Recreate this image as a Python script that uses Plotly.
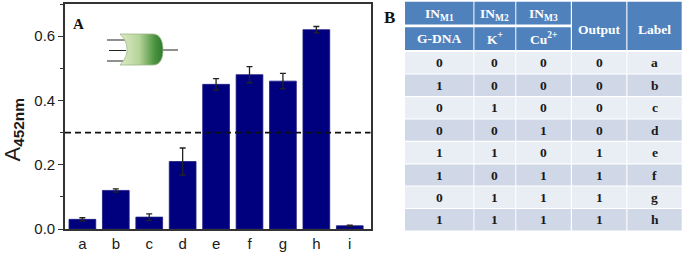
import base64
import plotly.graph_objects as go

W, H = 685, 254

categories = ["a", "b", "c", "d", "e", "f", "g", "h", "i"]
absorbance = [0.03, 0.12, 0.037, 0.21, 0.45, 0.48, 0.46, 0.62, 0.01]
errors = [0.005, 0.005, 0.01, 0.042, 0.018, 0.025, 0.024, 0.01, 0.002]
threshold = 0.3

header_top = ["IN<sub>M1</sub>", "IN<sub>M2</sub>", "IN<sub>M3</sub>"]
header_bottom = ["G-DNA", "K<sup>+</sup>", "Cu<sup>2+</sup>"]
header_merged = ["Output", "Label"]
in_m1 = ["0", "1", "0", "0", "1", "1", "0", "1"]
in_m2 = ["0", "0", "1", "0", "1", "0", "1", "1"]
in_m3 = ["0", "0", "0", "1", "0", "1", "1", "1"]
output = ["0", "0", "0", "0", "1", "1", "1", "1"]
labels = ["a", "b", "c", "d", "e", "f", "g", "h"]

px = lambda x: x / W
py = lambda y: 1 - y / H

fig = go.Figure()
fig.add_trace(go.Bar(
    x=categories, y=absorbance, width=0.8,
    marker=dict(color="#00007f", line=dict(color="#1a1a80", width=0.8)),
    error_y=dict(type="data", array=errors, color="#222222", thickness=1.3, width=3),
    showlegend=False, hoverinfo="skip",
))

shapes, ann = [], []

# threshold line, placed through the value axis
shapes.append(dict(type="line", xref="x domain", yref="y", layer="above",
                   x0=0, x1=1, y0=threshold, y1=threshold,
                   line=dict(color="#111111", width=1.8, dash="6px,4px")))

def rect(x0, y0, x1, y1, color):
    shapes.append(dict(type="rect", xref="paper", yref="paper", layer="above",
                       x0=px(x0), x1=px(x1), y0=py(y1), y1=py(y0),
                       fillcolor=color, line=dict(width=0)))

def text(x, y, s, size=12, color="#1a1a1a", family="Liberation Serif", angle=0):
    ann.append(dict(xref="paper", yref="paper", x=px(x), y=py(y), text=s, showarrow=False,
                    xanchor="center", yanchor="middle", textangle=angle,
                    font=dict(family=family, size=size, color=color)))

# table geometry
cols = [(405, 473.4), (474.4, 515.3), (516.3, 570.8), (572, 626.3), (627.4, 681.7)]
rows = [(52, 73.4), (74.4, 96), (97.2, 118.4), (119.5, 140.8),
        (142, 163.3), (164.4, 185.6), (186.5, 208), (209, 230.6)]
HEAD, ODD, EVEN = "#4f81bd", "#e9edf4", "#d0d8e8"

for i, (x0, x1) in enumerate(cols[:3]):
    rect(x0, 1.7, x1, 24.4, HEAD)
    rect(x0, 27.3, x1, 50, HEAD)
    text((x0 + x1) / 2, 14, "<b>%s</b>" % header_top[i], 13.5, "white")
    text((x0 + x1) / 2, 38.5, "<b>%s</b>" % header_bottom[i], 13.5, "white")
for i, (x0, x1) in enumerate(cols[3:]):
    rect(x0, 1.7, x1, 50, HEAD)
    text((x0 + x1) / 2, 29, "<b>%s</b>" % header_merged[i], 13.5, "white")

columns = [in_m1, in_m2, in_m3, output, labels]
for r, (y0, y1) in enumerate(rows):
    for c, (x0, x1) in enumerate(cols):
        rect(x0, y0, x1, y1, ODD if r % 2 == 0 else EVEN)
        text((x0 + x1) / 2, (y0 + y1) / 2, "<b>%s</b>" % columns[c][r], 13.5)

text(78.5, 23.5, "<b>A</b>", 15, "#111111")
text(389.5, 18, "<b>B</b>", 17, "#111111")
text(13.5, 130, "A<sub><b>452nm</b></sub>", 22, "#1a1a1a", "Liberation Sans", -90)

# logic gate glyph
gate_svg = """<svg xmlns='http://www.w3.org/2000/svg' width='72' height='36' viewBox='0 0 72 36'>
<defs><linearGradient id='g' x1='0' x2='1' y1='0' y2='0'>
<stop offset='0' stop-color='#dcebc4'/><stop offset='0.45' stop-color='#b5d49a'/>
<stop offset='0.8' stop-color='#4d9440'/><stop offset='1' stop-color='#2f7a2f'/></linearGradient></defs>
<path d='M0 10H19M2 20.5H19M0 31H19M54 20H71' stroke='#222' stroke-width='1.1' fill='none'/>
<path d='M13 4H46C54 4 56 13 56 20C56 27 54 35 46 35H13C19 28 20 24 20 20C20 15 19 10 13 4Z'
 fill='url(#g)' stroke='#9db58c' stroke-width='0.8'/></svg>"""
uri = "data:image/svg+xml;base64," + base64.b64encode(gate_svg.encode()).decode()

fig.update_layout(
    width=W, height=H, margin=dict(l=0, r=0, t=0, b=0),
    paper_bgcolor="white", plot_bgcolor="white", bargap=0.2,
    font=dict(family="Liberation Sans", size=15, color="#1a1a1a"),
    shapes=shapes, annotations=ann,
    images=[dict(source=uri, xref="paper", yref="paper", x=px(107), y=py(30),
                 sizex=px(72), sizey=36 / H, xanchor="left", yanchor="top",
                 sizing="stretch", layer="above")],
    xaxis=dict(domain=[px(65), px(370.5)], range=[-0.52, 8.62], type="category",
               categoryorder="array", categoryarray=categories, automargin=False,
               showgrid=False, zeroline=False, showline=True, mirror=True,
               linecolor="#333333", linewidth=1.6, ticks="", tickfont=dict(size=15), ticklen=0),
    yaxis=dict(domain=[py(229), py(4)], range=[0, 0.7], tickmode="array", automargin=False,
               tickvals=[0, 0.2, 0.4, 0.6], ticktext=["0.0", "0.2", "0.4", "0.6"],
               showgrid=False, zeroline=False, showline=True, mirror=True,
               linecolor="#333333", linewidth=1.6, ticks="outside", ticklen=5, tickwidth=1.4,
               tickcolor="#333333", tickfont=dict(size=15),
               minor=dict(tickvals=[0.1, 0.3, 0.5, 0.7], ticks="outside", ticklen=3,
                          tickwidth=1.2, tickcolor="#333333")),
)

fig.write_html("out.html", config=dict(displayModeBar=False),
               post_script="document.body.style.margin='0';")
